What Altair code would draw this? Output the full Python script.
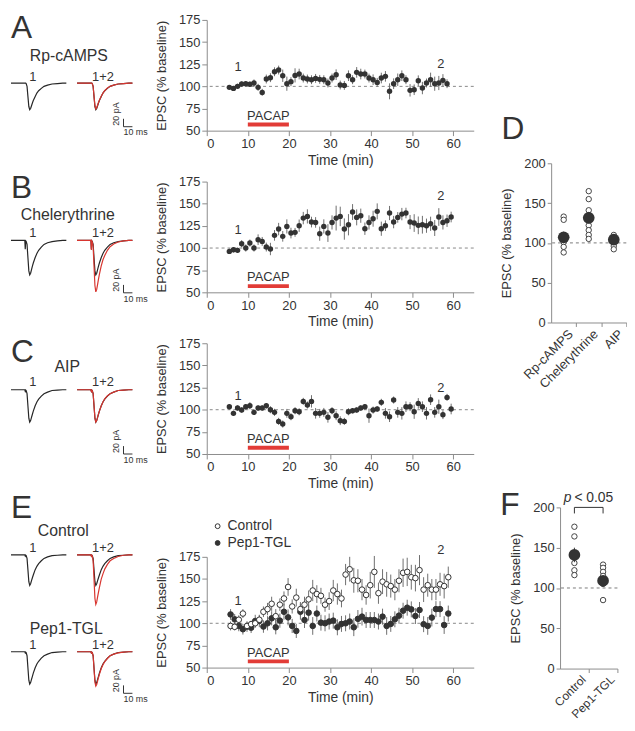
import altair as alt
import pandas as pd

FONT = "Liberation Sans"
INK = "#333333"
AXIS_GRAY = "#8c8c8c"
ERR_GRAY = "#6e6e6e"
DASH_GRAY = "#7a7a7a"
PACAP_RED = "#e23c37"
TRACE_BLACK = "#262626"
TRACE_RED = "#d8352f"

# ---------------- time courses: time (min), EPSC (% baseline), SEM ----------------
A_TIME = [5.5, 6.5, 7.5, 8.5, 9.5, 10.5, 11.5, 12.5, 13.5, 14.5, 15.5, 16.5, 17.5, 18.5,
          19.5, 20.5, 21.5, 22.5, 23.5, 24.5, 25.5, 26.5, 27.5, 28.5, 29.5, 30.5, 31.5,
          32.5, 33.5, 34.5, 35.5, 36.5, 37.5, 38.5, 39.5, 40.5, 41.5, 42.5, 43.5, 44.5,
          45.5, 46.5, 47.5, 48.5, 49.5, 50.5, 51.5, 52.5, 53.5, 54.5, 55.5, 56.5, 57.5, 58.5]
A_MEAN = [98.9, 97.7, 100.0, 102.6, 103.0, 102.3, 103.8, 98.9, 93.2, 108.3,
          109.8, 116.5, 118.4, 112.0, 103.0, 105.3, 112.4, 113.9, 109.4, 108.3,
          107.5, 109.0, 107.9, 107.5, 103.8, 109.4, 113.2, 101.5, 101.1, 112.0,
          107.5, 115.8, 113.9, 113.9, 109.4, 107.5, 104.5, 109.4, 111.3, 94.4,
          103.0, 107.5, 112.0, 107.5, 95.5, 96.2, 106.4, 98.1, 103.8, 107.5,
          103.0, 103.8, 106.8, 103.0]
A_SEM = [2, 2, 3, 3, 3, 3, 4, 4, 4, 5,
         5, 5, 5, 7, 8, 5, 8, 6, 5, 5,
         5, 5, 5, 5, 5, 5, 6, 5, 5, 6,
         5, 6, 6, 5, 5, 6, 5, 6, 6, 9,
         6, 7, 6, 5, 7, 6, 6, 7, 5, 8,
         8, 8, 7, 5]

B_TIME = [5.5, 6.5, 7.5, 8.5, 9.5, 10.5, 11.5, 12.5, 13.5, 14.5, 15.5, 16.5, 17.5, 18.5,
          19.5, 20.5, 21.5, 22.5, 23.5, 24.5, 25.5, 26.5, 27.5, 28.5, 29.5, 30.5, 31.5,
          32.5, 33.5, 34.5, 35.5, 36.5, 37.5, 38.5, 39.5, 40.5, 41.5, 42.5, 43.5, 44.5,
          45.5, 46.5, 47.5, 48.5, 49.5, 50.5, 51.5, 52.5, 53.5, 54.5, 55.5, 56.5, 57.5,
          58.5, 59.5]
B_MEAN = [96.2, 98.0, 97.4, 104.9, 100.0, 105.6, 100.0, 109.4, 107.5, 101.1,
          98.9, 114.3, 121.4, 113.2, 124.4, 116.9, 117.7, 125.2, 133.8, 135.7,
          129.3, 128.9, 116.2, 124.4, 116.9, 128.9, 133.8, 135.7, 121.4, 126.3,
          140.6, 134.6, 136.5, 121.8, 128.9, 133.1, 141.4, 121.8, 125.2, 139.5,
          129.3, 134.6, 138.3, 139.5, 129.3, 128.2, 125.6, 126.3, 125.2, 127.4,
          122.6, 135.0, 128.9, 130.8, 135.0]
B_SEM = [3, 3, 3, 4, 4, 4, 4, 6, 5, 5,
         7, 6, 7, 6, 8, 6, 5, 7, 7, 8,
         6, 6, 8, 8, 10, 8, 14, 11, 12, 12,
         9, 9, 8, 7, 8, 9, 9, 8, 6, 8,
         7, 6, 7, 6, 8, 10, 10, 10, 8, 8,
         9, 10, 8, 7, 6]

C_TIME = [5.5, 6.5, 7.5, 8.5, 9.5, 10.5, 11.5, 12.5, 13.5, 14.5, 15.5, 16.5, 17.5, 18.5,
          19.5, 20.5, 21.5, 22.5, 23.5, 24.5, 25.5, 26.5, 27.5, 28.5, 29.5, 30.5, 31.5,
          32.5, 33.5, 34.5, 35.5, 36.5, 37.5, 38.5, 39.5, 40.5, 41.5, 42.5, 43.5, 44.5,
          45.5, 46.5, 47.5, 48.5, 49.5, 50.5, 51.5, 52.5, 53.5, 54.5, 55.5, 56.5, 57.5,
          58.5, 59.5]
C_MEAN = [103.4, 95.9, 101.9, 99.6, 103.4, 104.5, 97.0, 101.9, 101.9, 104.5,
          100.0, 97.0, 86.8, 83.8, 95.9, 92.1, 98.9, 97.7, 109.4, 105.3,
          109.4, 95.9, 95.9, 97.0, 91.4, 98.9, 93.2, 87.6, 86.8, 97.7,
          98.9, 99.6, 101.9, 103.4, 93.2, 99.6, 100.8, 108.3, 95.9, 92.1,
          110.9, 97.0, 95.9, 103.4, 103.4, 97.7, 107.1, 103.4, 95.9, 111.3,
          97.0, 103.4, 94.4, 113.9, 100.8]
C_SEM = [3, 3, 3, 3, 3, 4, 3, 3, 3, 3,
         4, 4, 4, 4, 5, 4, 4, 4, 4, 4,
         7, 6, 5, 5, 6, 4, 5, 5, 4, 4,
         3, 3, 3, 3, 8, 4, 3, 4, 6, 6,
         4, 6, 7, 6, 5, 8, 6, 6, 7, 6,
         6, 8, 5, 4, 6]

E_TIME = [5.8, 6.8, 7.8, 8.8, 9.8, 10.8, 11.8, 12.8, 13.8, 14.8, 15.8, 16.8, 17.8, 18.8,
          19.8, 20.8, 21.8, 22.8, 23.8, 24.8, 25.8, 26.8, 27.8, 28.8, 29.8, 30.8, 31.8,
          32.8, 33.8, 34.8, 35.8, 36.8, 37.8, 38.8, 39.8, 40.8, 41.8, 42.8, 43.8, 44.8,
          45.8, 46.8, 47.8, 48.8, 49.8, 50.8, 51.8, 52.8, 53.8, 54.8, 55.8, 56.8, 57.8, 58.8]
E_CONTROL = [97, 96, 104, 111, 97, 99, 100, 104, 113, 116, 122, 108, 121, 128, 141,
             119, 129, 116, 121, 127, 137, 133, 131, 121, 125,
             137, 133, 128, 155, 161, 148.5, 148, 138, 132, 143, 158, 134, 147, 144, 142,
             138, 148, 157, 158, 152, 151, 160, 138, 143, 138, 138, 144, 142, 152]
E_CONTROL_SEM = [5, 4, 5, 5, 4, 4, 5, 5, 6, 7, 8, 8, 7, 8, 10, 8, 10, 8, 9, 10, 12, 10, 9, 8, 10,
                 12, 12, 10, 12, 14, 14, 13, 12, 11, 15, 18, 12, 14, 14, 13, 12, 13, 16, 16,
                 14, 15, 17, 14, 13, 12, 12, 13, 14, 12]
E_PEP = [110, 104.5, 97, 93.3, 96.3, 95, 102.6, 102.6, 96.3, 100, 105.6, 95.5, 103, 113,
         106.7, 97, 91.4, 113, 103.7, 112, 97, 111, 100.7, 100, 102,
         103, 95.5, 99.3, 100, 102, 95.5, 105, 107.5, 103.7, 103.7, 103.7, 102, 107.5, 97,
         99.3, 104.5, 108.6, 114.2, 117.6, 115.7, 108.2, 115, 99, 97, 106.4, 116, 116, 98, 111]
E_PEP_SEM = [6, 6, 6, 6, 6, 6, 7, 7, 7, 8, 8, 8, 8, 9, 9, 8, 8, 9, 9, 9, 10, 9, 9, 9, 9,
             9, 9, 9, 9, 9, 10, 10, 10, 9, 9, 9, 9, 9, 10, 9, 9, 9, 9, 9, 9, 9, 9, 9, 10,
             10, 9, 9, 10, 9]

PACAP_START, PACAP_END = 10, 20
BASELINE = 100

# ---------------- summary panels ----------------
D_GROUPS = ["Rp-cAMPS", "Chelerythrine", "AIP"]
D_CELLS = {
    "Rp-cAMPS": [133, 129, 110, 104, 101, 95, 88],
    "Chelerythrine": [165, 155, 141, 135, 128, 122, 116, 110, 105],
    "AIP": [110, 105, 100, 96, 92],
}
D_MEAN = [107, 131.5, 104]
D_SEM = [6, 7, 3]

F_GROUPS = ["Control", "Pep1-TGL"]
F_CELLS = {
    "Control": [176, 164, 131, 122, 116],
    "Pep1-TGL": [129, 125, 120, 115, 109, 105, 85],
}
F_MEAN = [141, 109]
F_SEM = [9, 5]

# ---------------- example EPSC traces (ms, pA) ----------------
TRACE_MS = [0, 10, 15.5, 16, 16.5, 17, 18, 19, 20, 21, 22, 23, 24, 25, 27, 29, 31, 34,
            37, 41, 46, 52, 58, 62]
A_TR1 = [0, 0, 0, 0, 0, -1, -8, -34, -59, -67, -64, -57, -50, -44, -34, -25, -19, -13, -8, -5, -2, -1, 0, 0]
A_TR2 = [0, 0, 0, 0, 0, -1, -8, -33, -57, -65, -62, -55, -49, -43, -33, -25, -19, -12, -8, -5, -2, -1, 0, 0]
B_TR1 = [0, 0, 0, -22, -1, -2, -10, -44, -77, -87, -83, -74, -65, -57, -44, -33, -25, -17, -10, -6, -3, -1, 0, 0]
B_TR2 = [0, 0, 0, -24, -1, -3, -16, -65, -114, -130, -124, -111, -98, -86, -65, -49, -38, -25, -16, -9, -4, -1, 0, 0]
C_TR1 = [0, 0, 0, -4, -1, -2, -10, -41, -72, -82, -78, -70, -62, -54, -41, -31, -24, -16, -10, -6, -2, -1, 0, 0]
C_TR2 = [0, 0, 0, -4, -1, -2, -10, -40, -71, -82, -78, -70, -61, -54, -41, -31, -23, -15, -10, -6, -2, -1, 0, 0]
EC_TR1 = [0, 0, 0, -3, -1, -2, -9, -38, -68, -77, -73, -65, -58, -51, -38, -29, -22, -15, -9, -5, -2, -1, 0, 0]
EC_TR2 = [0, 0, 0, -3, -1, -3, -15, -62, -110, -125, -119, -106, -94, -83, -62, -48, -36, -24, -15, -9, -4, -1, 0, 0]
EP_TR1 = [0, 0, 0, -3, -1, -2, -10, -41, -72, -82, -78, -70, -62, -54, -41, -31, -24, -16, -10, -6, -2, -1, 0, 0]
EP_TR2 = [0, 0, 0, -3, -1, -2, -10, -43, -77, -87, -83, -74, -65, -57, -43, -33, -25, -17, -10, -6, -3, -1, 0, 0]
OVERLAY_SHIFT = 74      # ms between the "1" and "1+2" sweeps
SCALE_MS, SCALE_PA = 10, 20
BAR_T = 126


# ======================= helpers =======================
def text_layer(t, v, s, X, Y, size=13, align="left", baseline="alphabetic", angle=0,
               style="normal", dx=0):
    df = pd.DataFrame({"t": [t], "v": [v], "txt": [s]})
    return alt.Chart(df).mark_text(font=FONT, fontSize=size, align=align, baseline=baseline,
                                   angle=angle, fontStyle=style, color=INK, dx=dx).encode(
        x=X("t"), y=Y("v"), text="txt:N")


def trace_panel(letter, letter_v, name, name_t, name_v, num_v, bar_top, tr1, tr2, height,
                y_dom, show_letter=True, show_bar=True):
    xs = alt.Scale(domain=[0, 155], nice=False, zero=False)
    ys = alt.Scale(domain=y_dom, nice=False, zero=False)
    X = lambda f: alt.X(f + ":Q", scale=xs, axis=None)
    Y = lambda f: alt.Y(f + ":Q", scale=ys, axis=None)
    blk = pd.concat([
        pd.DataFrame({"t": TRACE_MS, "v": tr1, "k": "first"}),
        pd.DataFrame({"t": [m + OVERLAY_SHIFT for m in TRACE_MS], "v": tr1, "k": "overlay"}),
    ])
    red = pd.DataFrame({"t": [m + OVERLAY_SHIFT for m in TRACE_MS], "v": tr2})
    layers = [
        alt.Chart(blk).mark_line(color=TRACE_BLACK, strokeWidth=1.2).encode(
            x=X("t"), y=Y("v"), detail="k:N"),
        alt.Chart(red).mark_line(color=TRACE_RED, strokeWidth=1.2).encode(x=X("t"), y=Y("v")),
        text_layer(name_t, name_v, name, X, Y, size=16),
        text_layer(24.5, num_v, "1", X, Y, size=13, align="center"),
        text_layer(103, num_v, "1+2", X, Y, size=13, align="center"),
    ]
    if show_letter:
        layers.append(text_layer(0, letter_v, letter, X, Y, size=32))
    if show_bar:
        bar = pd.DataFrame({"t": [BAR_T], "t2": [BAR_T + SCALE_MS], "top": [bar_top],
                            "bot": [bar_top - SCALE_PA]})
        layers += [
            alt.Chart(bar).mark_rule(color=INK, strokeWidth=1).encode(
                x=X("t"), y=Y("top"), y2="bot:Q"),
            alt.Chart(bar).mark_rule(color=INK, strokeWidth=1).encode(
                x=X("t"), x2="t2:Q", y=Y("bot")),
            text_layer(BAR_T - 8.5, bar_top + 12, "20 pA", X, Y, size=9, align="center",
                       baseline="middle", angle=270),
            text_layer(BAR_T + 13.5, bar_top - SCALE_PA - 22, "10 ms", X, Y, size=9,
                       align="center"),
        ]
    return alt.layer(*layers).properties(width=140, height=height)


XS = alt.Scale(domain=[0, 65], nice=False, zero=False)
YS = alt.Scale(domain=[50, 175], nice=False, zero=False)
X_AX = alt.Axis(values=[0, 10, 20, 30, 40, 50, 60], title="Time (min)", labelPadding=2,
                titlePadding=3)
Y_AX = alt.Axis(values=[50, 75, 100, 125, 150, 175], title="EPSC (% baseline)",
                titlePadding=10, titleFontSize=13)
TX = lambda f: alt.X(f + ":Q", scale=XS, axis=X_AX)
TY = lambda f: alt.Y(f + ":Q", scale=YS, axis=Y_AX)


def series_df(time, mean, sem, label=None):
    df = pd.DataFrame({"t": time, "v": mean, "sem": sem})
    df["lo"] = df["v"] - df["sem"]
    df["hi"] = df["v"] + df["sem"]
    if label is not None:
        df["series"] = label
    return df


def time_panel(df, one_v, two_v, two_series=False):
    layers = [
        alt.Chart(pd.DataFrame({"v": [BASELINE]})).mark_rule(
            color=DASH_GRAY, strokeDash=[3, 3], strokeWidth=0.9).encode(y=TY("v")),
        alt.Chart(df).mark_rule(color=ERR_GRAY, strokeWidth=1).encode(
            x=TX("t"), y=TY("lo"), y2="hi:Q"),
    ]
    if two_series:
        layers.append(alt.Chart(df).mark_point(
            filled=True, size=32, stroke=INK, strokeWidth=1, opacity=1, shape="circle").encode(
            x=TX("t"), y=TY("v"),
            fill=alt.Fill("series:N",
                          scale=alt.Scale(domain=["Control", "Pep1-TGL"], range=["#ffffff", INK]),
                          legend=alt.Legend(title=None, orient="none", legendX=4, legendY=-38,
                                            labelFontSize=14, labelColor=INK, labelFont=FONT,
                                            symbolType="circle", symbolSize=24,
                                            symbolStrokeColor=INK, symbolStrokeWidth=1,
                                            rowPadding=3, labelOffset=3))))
    else:
        layers.append(alt.Chart(df).mark_circle(size=30, color=INK, opacity=1).encode(
            x=TX("t"), y=TY("v")))
    pac = pd.DataFrame({"t": [PACAP_START], "t2": [PACAP_END], "v": [57]})
    layers += [
        alt.Chart(pac).mark_rule(color=PACAP_RED, strokeWidth=4).encode(
            x=TX("t"), x2="t2:Q", y=TY("v")),
        text_layer((PACAP_START + PACAP_END) / 2, 62.5, "PACAP", TX, TY, size=13, align="center"),
        text_layer(7.6, one_v, "1", TX, TY, size=13, align="center"),
        text_layer(57, two_v, "2", TX, TY, size=13, align="center"),
    ]
    return alt.layer(*layers).properties(width=270, height=112)


def summary_panel(groups, cells, means, sems, width, height, letter, letter_v, letter_dx,
                  label_size, label_offset, bracket=False):
    bw = width / len(groups)
    xs = alt.Scale(domain=groups, paddingInner=0, paddingOuter=0)
    ys = alt.Scale(domain=[0, 200], nice=False, zero=True)
    x_ax = alt.Axis(title=None, labelAngle=-45, tickOffset=bw / 2, labelOffset=label_offset,
                    labelPadding=1, tickSize=4, labelFontSize=label_size)
    y_ax = alt.Axis(values=[0, 50, 100, 150, 200], title="EPSC (% baseline)", titlePadding=10,
                    tickSize=4, titleFontSize=13)
    X = lambda f: alt.X(f + ":N", scale=xs, axis=x_ax, sort=groups)
    Y = lambda f: alt.Y(f + ":Q", scale=ys, axis=y_ax)
    cell_df = pd.DataFrame([{"t": g, "v": v} for g in groups for v in cells[g]])
    mean_df = pd.DataFrame({"t": groups, "v": means, "sem": sems})
    mean_df["lo"] = mean_df["v"] - mean_df["sem"]
    mean_df["hi"] = mean_df["v"] + mean_df["sem"]
    layers = [
        alt.Chart(pd.DataFrame({"v": [BASELINE]})).mark_rule(
            color=DASH_GRAY, strokeDash=[3, 3], strokeWidth=1).encode(y=Y("v")),
        alt.Chart(cell_df).mark_point(filled=True, fill="#ffffff", stroke="#444444",
                                      strokeWidth=1, size=30, opacity=1, shape="circle").encode(
            x=X("t"), y=Y("v")),
        alt.Chart(mean_df).mark_rule(color=INK, strokeWidth=1).encode(
            x=X("t"), y=Y("lo"), y2="hi:Q"),
        alt.Chart(mean_df).mark_circle(size=140, color=INK, opacity=1).encode(
            x=X("t"), y=Y("v")),
        text_layer(groups[0], letter_v, letter, X, Y, size=32, dx=letter_dx),
    ]
    if bracket:
        br = pd.DataFrame({"t": [groups[0]], "t2": [groups[1]], "v": [200], "v2": [192.5]})
        tick_df = pd.DataFrame({"t": groups, "v": [200, 200], "v2": [192.5, 192.5]})
        layers += [
            alt.Chart(br).mark_rule(color=INK, strokeWidth=1).encode(
                x=X("t"), x2="t2:N", y=Y("v")),
            alt.Chart(tick_df).mark_rule(color=INK, strokeWidth=1).encode(
                x=X("t"), y=Y("v"), y2="v2:Q"),
            text_layer(groups[0], 207, "p", X, Y, size=14, align="center", style="italic", dx=-7),
            text_layer(groups[0], 207, "< 0.05", X, Y, size=14, align="left", dx=0),
        ]
    return alt.layer(*layers).properties(width=width, height=height)


def spacer(w, h):
    return alt.Chart(pd.DataFrame({"a": [0]})).mark_point(opacity=0).properties(width=w, height=h)


# ======================= left column: traces =======================
rowA = trace_panel("A", 115, "Rp-cAMPS", 21, 55, 5, -90, A_TR1, A_TR2, 149, [-212.5, 160])
rowB = trace_panel("B", 107.5, "Chelerythrine", 11, 52.5, 7.5, -112.5, B_TR1, B_TR2, 165,
                   [-227.5, 185])
rowC = trace_panel("C", 70, "AIP", 48.7, 45, 10, -142.5, C_TR1, C_TR2, 160, [-250, 150])
rowEC = trace_panel("E", 92, "Control", 30, 47.5, 7.5, 0, EC_TR1, EC_TR2, 125, [-145, 167.5],
                    show_bar=False)
rowEP = trace_panel("", 0, "Pep1-TGL", 21, 44, 7.5, -85, EP_TR1, EP_TR2, 108, [-170, 100],
                    show_letter=False)
left = alt.vconcat(rowA, rowB, rowC, rowEC, rowEP, spacing=0, bounds="flush")

# ======================= middle column: time courses =======================
pA = time_panel(series_df(A_TIME, A_MEAN, A_SEM), 117, 120.7)
pB = time_panel(series_df(B_TIME, B_MEAN, B_SEM), 116.2, 154.5)
pC = time_panel(series_df(C_TIME, C_MEAN, C_SEM), 111.3, 120)
e_df = pd.concat([series_df(E_TIME, E_PEP, E_PEP_SEM, "Pep1-TGL"),
                  series_df(E_TIME, E_CONTROL, E_CONTROL_SEM, "Control")], ignore_index=True)
pE = time_panel(e_df, 120.9, 178.7, two_series=True)
mid = alt.vconcat(pA, pB, pC, spacer(270, 1), pE, spacing=51.5, bounds="flush").resolve_scale(
    fill="independent").resolve_legend(fill="independent")

# ======================= right column: summaries =======================
pD = summary_panel(D_GROUPS, D_CELLS, D_MEAN, D_SEM, 76, 161, "D", 230, -63, 13, -10)
pF = summary_panel(F_GROUPS, F_CELLS, F_MEAN, F_SEM, 58, 163, "F", 190, -75, 12, -9,
                   bracket=True)
right = alt.vconcat(spacer(76, 85), pD, spacer(76, 67), pF, spacing=60, bounds="flush",
                    center=True)

inner = alt.hconcat(left, mid, spacing=6).resolve_scale(
    fill="independent").resolve_legend(fill="independent")
chart = alt.hconcat(inner, right, spacing=25.3).resolve_scale(
    fill="independent").resolve_legend(fill="independent").properties(
    padding=0, background="white")
chart = chart.configure(font=FONT).configure_view(stroke=None).configure_axis(
    domainColor=AXIS_GRAY, tickColor=AXIS_GRAY, labelColor=INK, titleColor=INK,
    labelFont=FONT, titleFont=FONT, labelFontSize=13, titleFontSize=14,
    titleFontWeight="normal", tickSize=5, grid=False, domainWidth=1, tickWidth=1)

chart.save("out.html", embed_options={"renderer": "svg", "actions": False})
